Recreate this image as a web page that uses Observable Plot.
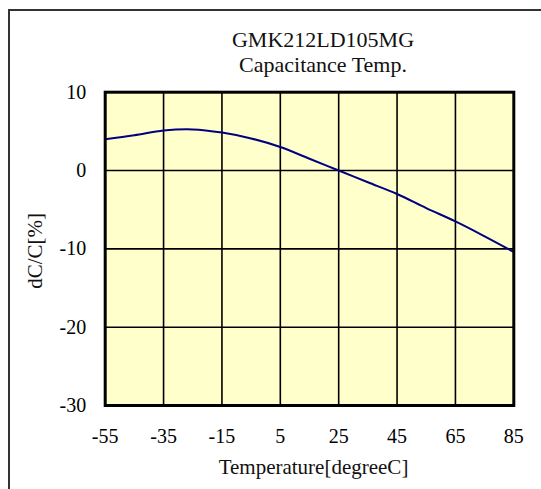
<!DOCTYPE html>
<html>
<head>
<meta charset="utf-8">
<script src="https://cdn.jsdelivr.net/npm/d3@7"></script>
<script src="https://cdn.jsdelivr.net/npm/@observablehq/plot@0.6"></script>
<style>
  html, body { margin: 0; padding: 0; background: white; overflow: hidden; }
  #wrap { position: relative; width: 541px; height: 489px; }
  #box { position: absolute; left: 8px; top: 9px; width: 700px; height: 700px;
         border-left: 2px solid #333; border-top: 2px solid #333; pointer-events: none; }
  #chart { position: absolute; left: 0; top: 0; }
</style>
</head>
<body>
<div id="wrap"><div id="chart"></div><div id="box"></div></div>
<script>
const titleLines = ["GMK212LD105MG", "Capacitance Temp."];
const xLabel = "Temperature[degreeC]";
const yLabel = "dC/C[%]";
const xTicks = [-55, -35, -15, 5, 25, 45, 65, 85];
const yTicks = [-30, -20, -10, 0, 10];
const temps = [-55, -45, -35, -25, -15, -5, 5, 15, 25, 35, 45, 55, 65, 75, 85];
const dC    = [4.0, 4.5, 5.1, 5.25, 4.85, 4.1, 3.0, 1.5, 0, -1.5, -3.0, -4.8, -6.5, -8.4, -10.4];

const data = temps.map((t, i) => ({t, v: dC[i]}));
const font = "Liberation Serif, Times New Roman, serif";

const chart = Plot.plot({
  width: 541,
  height: 489,
  marginLeft: 104.7,
  marginRight: 27.7,
  marginTop: 91.7,
  marginBottom: 84,
  style: {fontFamily: font, fontSize: "20px", background: "transparent", color: "black"},
  x: {domain: [-55, 85], ticks: xTicks, tickSize: 0, tickPadding: 23, label: null, tickFormat: d => String(d)},
  y: {domain: [-30, 10], ticks: yTicks, tickSize: 0, tickPadding: 19, label: null, tickFormat: d => String(d)},
  marks: [
    Plot.frame({fill: "#FFFFCC", stroke: null}),
    Plot.gridX(xTicks, {stroke: "black", strokeOpacity: 1, strokeWidth: 1.6}),
    Plot.gridY(yTicks, {stroke: "black", strokeOpacity: 1, strokeWidth: 1.6}),
    Plot.line(data, {x: "t", y: "v", stroke: "#000080", strokeWidth: 2, curve: "catmull-rom"}),
    Plot.frame({stroke: "black", strokeWidth: 3}),
    Plot.text([titleLines[0]], {frameAnchor: "top", lineAnchor: "bottom", dx: 13.5, dy: -45, fontSize: 22, fill: "#111"}),
    Plot.text([titleLines[1]], {frameAnchor: "top", lineAnchor: "bottom", dx: 13.5, dy: -20, fontSize: 22, fill: "#111"}),
    Plot.text([xLabel], {frameAnchor: "bottom", lineAnchor: "bottom", dx: 4, dy: 68.8, fontSize: 21, fill: "#111"}),
    Plot.text([yLabel], {frameAnchor: "left", textAnchor: "middle", lineAnchor: "bottom", rotate: -90, dx: -62.7, dy: 2, fontSize: 21, fill: "#111"})
  ]
});
document.getElementById("chart").appendChild(chart);
</script>
</body>
</html>
